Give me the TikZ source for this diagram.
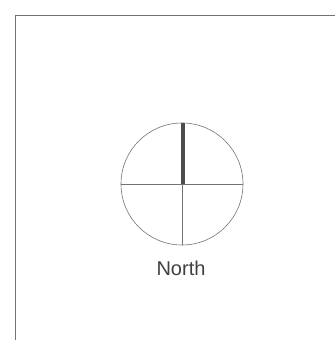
\documentclass[tikz,border=0pt]{standalone}
\usepackage{fontspec}
\setmainfont{Liberation Sans}
\begin{document}
\begin{tikzpicture}[x=1pt,y=1pt,
  thinline/.style={draw=black!55,line width=0.6pt},
  dial/.style={circle,draw=black!55,line width=0.6pt,minimum size=122pt,inner sep=0pt},
  needle/.style={draw=black!70,line width=4pt},
  lbl/.style={font=\fontsize{20}{24}\selectfont,text=black!75,inner sep=0pt}]
\useasboundingbox (0,0) rectangle (335,340);
\coordinate (tl) at (15,325);
\coordinate (tr) at (335,325);
\coordinate (bl) at (15,0);
\draw[thinline] (tr) -- (tl) -- (bl);
\node[dial] (c) at (182,156) {};
\draw[thinline] (c.west) -- (c.east);
\draw[thinline] (c.center) -- (c.south);
\draw[needle] ([xshift=1pt]c.north) -- ([xshift=1pt]c.center);
\node[lbl] (n) at (181,72) {North};
\end{tikzpicture}
\end{document}
